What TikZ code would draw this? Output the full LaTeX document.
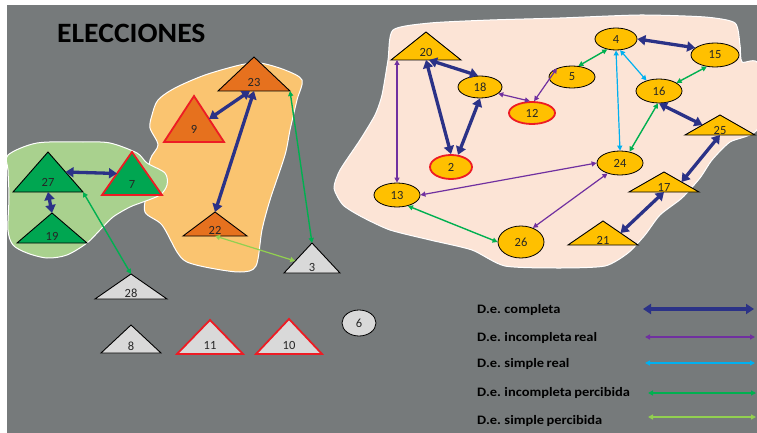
\documentclass[tikz,border=0pt]{standalone}
\usepackage{fontspec}
\setmainfont{Carlito}
\newfontfamily\legfont[FakeStretch=1.12,WordSpace=0.75]{Carlito}
\newfontfamily\titlefont[FakeStretch=1.06]{Carlito}
\usetikzlibrary{shapes.geometric,arrows.meta,calc}
\definecolor{cBg}{RGB}{118,122,123}
\definecolor{cPink}{RGB}{252,228,214}
\definecolor{cOrBlob}{RGB}{250,196,112}
\definecolor{cGrBlob}{RGB}{169,209,142}
\definecolor{cGold}{RGB}{255,192,0}
\definecolor{cOrange}{RGB}{230,113,30}
\definecolor{cGreen}{RGB}{0,166,81}
\definecolor{cLGrey}{RGB}{217,217,217}
\definecolor{cRed}{RGB}{237,28,36}
\definecolor{cNavy}{RGB}{43,50,135}
\definecolor{cPurple}{RGB}{112,48,160}
\definecolor{cCyan}{RGB}{0,176,240}
\definecolor{cGreenL}{RGB}{0,176,80}
\definecolor{cLime}{RGB}{146,208,80}
\tikzset{
  blk/.style={draw=black,line width=0.9pt},
  redl/.style={draw=cRed,line width=1.8pt},
  tribox/.style={inner sep=0pt,outer sep=0pt},
  lbl/.style={font=\fontsize{12.5}{12.5}\selectfont,text=black!85,inner sep=0pt},
  ell/.style={ellipse,draw=black,line width=0.8pt,fill=cGold,inner sep=0pt,
    font=\fontsize{12.5}{12.5}\selectfont,text=black!85},
  ellred/.style={ell,draw=cRed,line width=1.8pt},
  blob/.style={draw=white,line width=1pt},
  dc/.style={draw=cNavy,line width=3.3pt,arrows={Triangle[length=8pt,width=10pt]-Triangle[length=8pt,width=10pt]}},
  ir/.style={draw=cPurple,line width=1.2pt,arrows={Triangle[length=5pt,width=5pt]-Triangle[length=5pt,width=5pt]}},
  sr/.style={draw=cCyan,line width=1.2pt,arrows={Triangle[length=5pt,width=5pt]-Triangle[length=5pt,width=5pt]}},
  ip/.style={draw=cGreenL,line width=1.4pt,arrows={Triangle[length=5pt,width=5pt]-Triangle[length=5pt,width=5pt]}},
  sp/.style={draw=cLime,line width=1.2pt,arrows={Triangle[length=5pt,width=5pt]-Triangle[length=5pt,width=5pt]}},
  leg/.style={font=\legfont\bfseries\fontsize{12.9}{12.9}\selectfont,text=black,inner sep=0pt},
  ttl/.style={font=\titlefont\bfseries\fontsize{28}{28}\selectfont,text=black,inner sep=0pt}
}
% name, text, apex x, top y, base y, half width, fill, border style, label offset
\newcommand\tri[9]{%
  \node[tribox,minimum width={2*#6pt},minimum height={(#5-#4)*1pt}] (#1) at (#3,{(#4+#5)/2}) {};
  \filldraw[fill=#7,#8,line join=miter] (#1.north) -- (#1.south east) -- (#1.south west) -- cycle;
  \node[lbl] at ($(#1.south)+(0,#9)$) {#2};
}
\begin{document}
\begin{tikzpicture}[x=1pt,y=-1pt]
\useasboundingbox (0,0) rectangle (757,433);
\fill[white] (0,0) rectangle (757,433);
\fill[cBg] (7,5) rectangle (757,433);
% blobs
\filldraw[blob,fill=cOrBlob] plot[smooth cycle,tension=0.5] coordinates {
 (152,115) (158,100) (175,88) (205,75) (240,65) (260,63) (285,70) (302,80) (297,100)
 (290,130) (285,155) (270,200) (262,230) (256,266) (240,272) (210,268) (187,262)
 (177,252) (162,225) (145,212) (147,190) (150,160) (158,145) (150,128)};
\filldraw[blob,fill=cGrBlob] plot[smooth cycle,tension=0.5] coordinates {
 (8,155) (37,143) (83,142) (110,143) (137,153) (147,163) (165,173) (167,185) (160,195)
 (143,202) (130,207) (113,217) (100,230) (87,243) (67,255) (47,258) (27,253) (13,245)
 (8,230) (9,197) (8,170)};
\filldraw[blob,fill=cPink] plot[smooth cycle,tension=0.4] coordinates {
 (393,30) (430,23) (490,20) (560,18) (640,15) (705,17) (735,23) (740,45) (742,62)
 (758,64) (758,128) (730,142) (712,160) (700,178) (682,198) (660,215) (645,235)
 (628,253) (605,266) (560,268) (505,266) (472,250) (430,240) (390,230) (362,217)
 (343,205) (334,188) (340,170) (360,140) (375,115) (382,95) (388,60)};
% title
\node[ttl,anchor=base west] (title) at (57,43) {ELECCIONES};
% triangles
\tri{n23}{23}{254}{57}{91}{36}{cOrange}{blk}{-9}
\tri{n9}{9}{194}{96}{142}{30}{cOrange}{redl}{-13}
\tri{n27}{27}{48}{152}{192}{35}{cGreen}{blk}{-10}
\tri{n7}{7}{132}{152}{195}{30}{cGreen}{redl}{-11}
\tri{n19}{19}{52}{213}{243}{35}{cGreen}{blk}{-7}
\tri{n22}{22}{215}{212}{236}{32}{cOrange}{blk}{-6}
\tri{n3}{3}{312}{243}{273}{28}{cLGrey}{blk}{-6}
\tri{n28}{28}{131}{274}{299}{36}{cLGrey}{blk}{-6}
\tri{n8}{8}{131}{325}{353}{30}{cLGrey}{blk}{-7}
\tri{n11}{11}{210}{320}{354}{33}{cLGrey}{redl}{-9}
\tri{n10}{10}{289}{319}{354}{33}{cLGrey}{redl}{-9}
\tri{n20}{20}{426}{32}{60}{35}{cGold}{blk}{-8}
\tri{n25}{25}{720}{115}{135}{35}{cGold}{blk}{-5}
\tri{n17}{17}{664}{172}{192}{35}{cGold}{blk}{-5}
\tri{n21}{21}{603}{221}{245}{35}{cGold}{blk}{-5}
% ellipses
\node[ell,minimum width=44pt,minimum height=22pt] (n18) at (480,87) {18};
\node[ellred,minimum width=46pt,minimum height=22pt] (n12) at (532,113) {12};
\node[ell,minimum width=46pt,minimum height=22pt] (n5) at (572,77) {5};
\node[ell,minimum width=42pt,minimum height=22pt] (n4) at (616,39) {4};
\node[ell,minimum width=48pt,minimum height=24pt] (n15) at (715,55) {15};
\node[ell,minimum width=46pt,minimum height=24pt] (n16) at (659,91) {16};
\node[ellred,minimum width=42pt,minimum height=24pt] (n2) at (451,167) {2};
\node[ell,minimum width=46pt,minimum height=24pt] (n24) at (620,163) {24};
\node[ell,minimum width=46pt,minimum height=24pt] (n13) at (397,195) {13};
\node[ell,minimum width=46pt,minimum height=32pt] (n26) at (521,242) {26};
\node[ell,fill=cLGrey,minimum width=34pt,minimum height=26pt] (n6) at (359,323) {6};
% D.e. completa
\draw[dc] ($(n23.south)+(-4,0)$) -- ($(n9.north)!0.5!(n9.south east)$);
\draw[dc] (n23.south) -- (n22.north);
\draw[dc] ($(n27.north)!0.5!(n27.south east)$) -- ($(n7.north)!0.5!(n7.south west)$);
\draw[dc] (n27.south) -- (n19.north);
\draw[dc] (n20.south) -- (n2.north);
\draw[dc] ($(n20.south)+(3,0)$) -- (n18.100);
\draw[dc] (n18.south) -- (n2.60);
\draw[dc] (n4.east) -- (n15.160);
\draw[dc] (n16.south) -- ($(n25.north)!0.5!(n25.south west)$);
\draw[dc] (n25.south) -- ($(n17.north)!0.5!(n17.south east)$);
\draw[dc] (n17.south) -- ($(n21.north)!0.5!(n21.south east)$);
% D.e. incompleta real
\draw[ir] (n13.north) -- (n13.north |- n20.south);
\draw[ir] (n18.-20) -- (n12.100);
\draw[ir] (n5.150) -- (n12.80);
\draw[ir] (n24.west) -- (n13.east);
\draw[ir] (n24.220) -- (n26.50);
% D.e. simple real
\draw[sr] (n4.south) -- (n24.north);
\draw[sr] (n4.-70) -- (n16.140);
% D.e. incompleta percibida
\draw[ip] (n4.230) -- (n5.60);
\draw[ip] (n15.235) -- (n16.25);
\draw[ip] (n16.-95) -- (n24.50);
\draw[ip] (n13.-45) -- (n26.west);
\draw[ip] (n23.south east) -- (n3.north);
\draw[ip] (n27.south east) -- (n28.north);
% D.e. simple percibida
\draw[sp] (n22.south) -- ($(n3.north)!0.6!(n3.south west)$);
% legend
\node[leg,anchor=base west] (l1) at (477,313) {D.e. completa};
\node[leg,anchor=base west] (l2) at (477,341) {D.e. incompleta real};
\node[leg,anchor=base west] (l3) at (477,367) {D.e. simple real};
\node[leg,anchor=base west] (l4) at (477,396) {D.e. incompleta percibida};
\node[leg,anchor=base west] (l5) at (477,424) {D.e. simple percibida};
\coordinate (a1s) at (643,309); \coordinate (a1e) at (754,309);
\coordinate (a2s) at (645,337); \coordinate (a2e) at (755,337);
\coordinate (a3s) at (645,363); \coordinate (a3e) at (755,363);
\coordinate (a4s) at (648,393); \coordinate (a4e) at (756,393);
\coordinate (a5s) at (648,417); \coordinate (a5e) at (756,417);
\draw[dc] (a1s) -- (a1e);
\draw[ir] (a2s) -- (a2e);
\draw[sr] (a3s) -- (a3e);
\draw[ip] (a4s) -- (a4e);
\draw[sp] (a5s) -- (a5e);
\end{tikzpicture}
\end{document}
